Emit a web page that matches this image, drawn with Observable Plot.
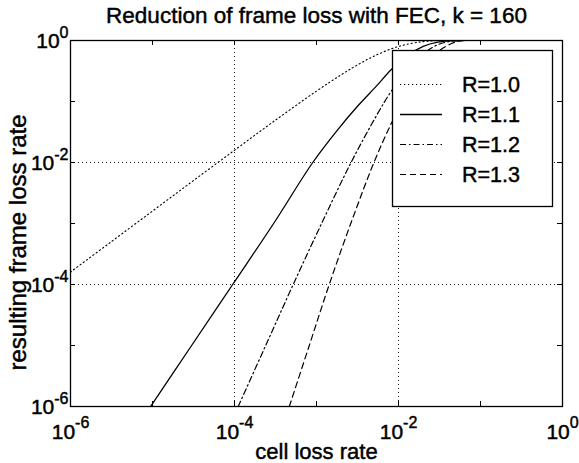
<!DOCTYPE html>
<html><head><meta charset="utf-8">
<script src="https://cdn.jsdelivr.net/npm/d3@7"></script>
<script src="https://cdn.jsdelivr.net/npm/@observablehq/plot@0.6"></script>
<style>
html,body{margin:0;padding:0;background:#fff;}
#chart{width:579px;height:463px;}
</style></head><body><div id="chart"></div>
<script>
const title = "Reduction of frame loss with FEC, k = 160";
const xLabel = "cell loss rate";
const yLabel = "resulting frame loss rate";
const seriesNames = ["R=1.0", "R=1.1", "R=1.2", "R=1.3"];
const decades = [1e-6, 1e-5, 1e-4, 1e-3, 1e-2, 1e-1, 1];
const labeledTicks = [1e-6, 1e-4, 1e-2, 1];
const tickExponents = ["-6", "-4", "-2", "0"];
const gridTicks = [1e-4, 1e-2];

const cellLossR10 = [1e-6, 3e-6, 1e-5, 3e-5, 1e-4, 3e-4, 1e-3, 2e-3, 3e-3, 5e-3, 1e-2, 2e-2, 3e-2, 5e-2];
const frameLossR10 = [1.6e-4, 4.8e-4, 1.6e-3, 4.8e-3, 0.0159, 0.047, 0.148, 0.274, 0.382, 0.552, 0.80, 0.96, 0.992, 1];
const cellLossR11 = [9e-6, 3e-5, 9.5e-5, 3e-4, 9e-4, 1.8e-3, 3.2e-3, 5.4e-3, 8.3e-3, 1.3e-2, 2e-2, 3e-2, 4.5e-2, 6e-2];
const frameLossR11 = [9e-7, 1e-5, 1e-4, 1e-3, 1e-2, 0.034, 0.085, 0.18, 0.34, 0.57, 0.8, 0.94, 0.99, 1];
const cellLossR12 = [1.11e-4, 2.4e-4, 5.2e-4, 1.2e-3, 2.64e-3, 5.4e-3, 8.3e-3, 1.3e-2, 2e-2, 3e-2, 4.5e-2, 6e-2];
const frameLossR12 = [1e-6, 1e-5, 1e-4, 1.12e-3, 1e-2, 0.059, 0.152, 0.33, 0.6, 0.85, 0.98, 1];
const cellLossR13 = [4.66e-4, 8e-4, 1.43e-3, 2.7e-3, 5.02e-3, 8.3e-3, 1.3e-2, 2e-2, 3e-2, 4.5e-2, 6e-2, 8e-2];
const frameLossR13 = [1e-6, 9.2e-6, 1e-4, 1.12e-3, 1e-2, 0.0455, 0.14, 0.36, 0.65, 0.9, 0.99, 1];

const FONT = '"Liberation Sans", Arial, Helvetica, sans-serif';
const W = 579, H = 463, mL = 70, mR = 17, mT = 40, mB = 57;
const fw = W - mL - mR, fh = H - mT - mB, TL = 5;
const TS = 0.45; // text stroke to mimic the heavier scanned type

const styles = [
  {dash: "1.2,2.8", width: 1.1},
  {dash: null, width: 1.3},
  {dash: "6,3,1.5,3", width: 1.2},
  {dash: "6,4", width: 1.2}
];
const xs = [cellLossR10, cellLossR11, cellLossR12, cellLossR13];
const ys = [frameLossR10, frameLossR11, frameLossR12, frameLossR13];
const table = seriesNames.map((s, i) => xs[i].map((x, j) => ({series: s, x, y: ys[i][j]})));

const textStyle = {fill: "#000", stroke: "#000", strokeWidth: TS};
const marks = [
  Plot.ruleX(gridTicks, {stroke: "#000", strokeWidth: 0.9, strokeDasharray: "1,3"}),
  Plot.ruleY(gridTicks, {stroke: "#000", strokeWidth: 0.9, strokeDasharray: "1,3"}),
  Plot.ruleX(decades, {stroke: "#000", strokeWidth: 1, insetTop: fh - TL}),
  Plot.ruleX(decades, {stroke: "#000", strokeWidth: 1, insetBottom: fh - TL}),
  Plot.ruleY(decades, {stroke: "#000", strokeWidth: 1, insetRight: fw - TL}),
  Plot.ruleY(decades, {stroke: "#000", strokeWidth: 1, insetLeft: fw - TL}),
  ...table.map((rows, i) => Plot.line(rows, {
    x: "x", y: "y", stroke: "#000", strokeWidth: styles[i].width, curve: "catmull-rom",
    strokeDasharray: styles[i].dash || undefined, clip: true
  })),
  Plot.frame({stroke: "#000", strokeWidth: 1.3}),
  Plot.text(labeledTicks, {x: d => d, text: (d, i) => "10^" + tickExponents[i], frameAnchor: "bottom",
    lineAnchor: "bottom", dy: 32, fontSize: 21, textAnchor: "middle", ...textStyle}),
  Plot.text(labeledTicks, {y: d => d, text: (d, i) => "10^" + tickExponents[i], frameAnchor: "left",
    lineAnchor: "bottom", dx: -2, dy: 7.5, fontSize: 21, textAnchor: "end", ...textStyle}),
  Plot.text([title], {text: d => d, frameAnchor: "top", lineAnchor: "bottom", textAnchor: "middle", dy: -18, fontSize: 22.5, ...textStyle}),
  Plot.text([xLabel], {text: d => d, frameAnchor: "bottom", lineAnchor: "bottom", textAnchor: "middle", dy: 52, fontSize: 22, ...textStyle}),
  Plot.text([yLabel], {text: d => d, frameAnchor: "left", lineAnchor: "bottom", textAnchor: "middle", rotate: -90, dx: -45, dy: 19, fontSize: 24, ...textStyle})
];

const svg = Plot.plot({
  width: W, height: H,
  marginLeft: mL, marginRight: mR, marginTop: mT, marginBottom: mB,
  x: {type: "log", domain: [1e-6, 1], axis: null},
  y: {type: "log", domain: [1e-6, 1], axis: null},
  style: {fontFamily: FONT, color: "#000", background: "#fff", overflow: "visible"},
  marks
});

// superscript exponents as tspans
d3.select(svg).selectAll("text").each(function () {
  const s = this.textContent;
  if (!s.startsWith("10^")) return;
  const exp = s.slice(3);
  this.textContent = "10";
  const t = document.createElementNS("http://www.w3.org/2000/svg", "tspan");
  t.setAttribute("dy", "-10.5");
  t.setAttribute("font-size", "16");
  t.textContent = exp;
  this.appendChild(t);
});

// legend box
const lg = d3.select(svg).append("g").attr("font-family", FONT).attr("text-anchor", "start");
const LX = 392, LY = 50, LW = 160, LH = 156;
lg.append("rect").attr("x", LX + 0.5).attr("y", LY + 0.5).attr("width", LW).attr("height", LH)
  .attr("fill", "#fff").attr("stroke", "#000").attr("stroke-width", 1.3);
seriesNames.forEach((name, i) => {
  const cy = LY + 34.5 + i * 30;
  lg.append("line").attr("x1", LX + 8).attr("x2", LX + 50).attr("y1", cy).attr("y2", cy)
    .attr("stroke", "#000").attr("stroke-width", styles[i].width)
    .attr("stroke-dasharray", styles[i].dash);
  lg.append("text").attr("x", LX + 70).attr("y", cy + 7.5).attr("font-size", 21.5)
    .attr("text-anchor", "start").attr("fill", "#000").attr("stroke", "#000")
    .attr("stroke-width", TS).text(name);
});

document.getElementById("chart").appendChild(svg);
</script></body></html>
